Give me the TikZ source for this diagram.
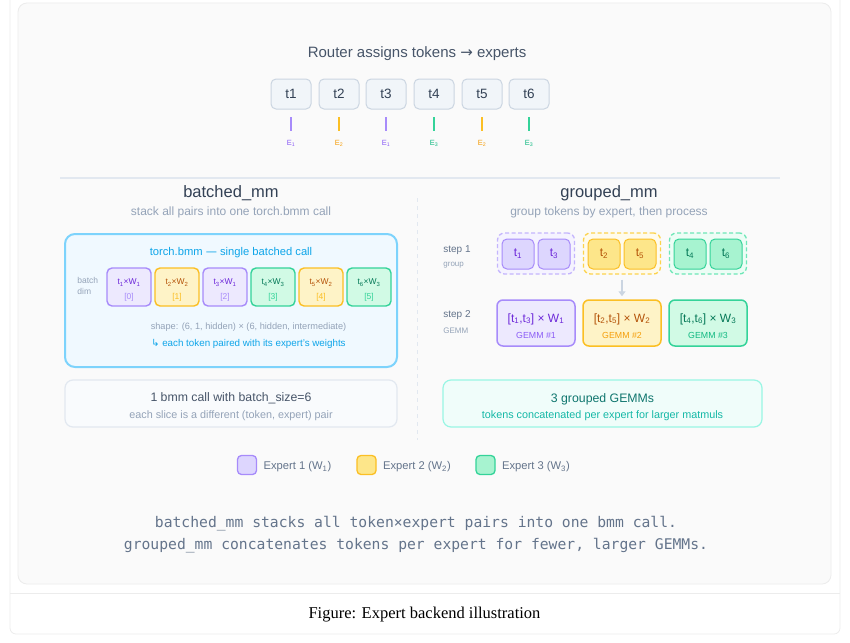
\documentclass[tikz,border=0pt]{standalone}
\usepackage{fontspec}
\setmainfont{Liberation Sans}
\setmonofont{DejaVu Sans Mono}
\newfontfamily\capfont{Liberation Serif}
\newfontfamily\symfont{DejaVu Sans}
\usetikzlibrary{arrows.meta}

\newcommand{\fsz}[1]{\fontsize{#1}{#1}\selectfont}

\definecolor{ink}{HTML}{334155}
\definecolor{inkmid}{HTML}{475569}
\definecolor{inksoft}{HTML}{64748B}
\definecolor{inkfaint}{HTML}{94A3B8}
\definecolor{rule}{HTML}{E2E8F0}
\definecolor{panel}{HTML}{FAFAFA}
\definecolor{panelline}{HTML}{ECECEC}
\definecolor{tokfill}{HTML}{F1F5F9}
\definecolor{tokline}{HTML}{CBD5E1}
\definecolor{sky}{HTML}{0EA5E9}
\definecolor{skyline}{HTML}{7DD3FC}
\definecolor{skyfill}{HTML}{F0F9FF}
\definecolor{teal}{HTML}{0F766E}
\definecolor{tealsoft}{HTML}{14B8A6}
\definecolor{tealline}{HTML}{99F6E4}
\definecolor{tealfill}{HTML}{F0FDFA}
% expert colours: P = expert 1, O = expert 2, G = expert 3
\definecolor{lineP}{HTML}{A78BFA}
\definecolor{fillP}{HTML}{EDE9FE}
\definecolor{textP}{HTML}{6D28D9}
\definecolor{softP}{HTML}{8B5CF6}
\definecolor{dashP}{HTML}{C4B5FD}
\definecolor{areaP}{HTML}{F5F3FF}
\definecolor{chipP}{HTML}{DDD6FE}
\definecolor{lineO}{HTML}{FBBF24}
\definecolor{fillO}{HTML}{FEF3C7}
\definecolor{textO}{HTML}{B45309}
\definecolor{softO}{HTML}{F59E0B}
\definecolor{dashO}{HTML}{FCD34D}
\definecolor{areaO}{HTML}{FFFBEB}
\definecolor{chipO}{HTML}{FDE68A}
\definecolor{lineG}{HTML}{34D399}
\definecolor{fillG}{HTML}{D1FAE5}
\definecolor{textG}{HTML}{047857}
\definecolor{softG}{HTML}{10B981}
\definecolor{dashG}{HTML}{6EE7B7}
\definecolor{areaG}{HTML}{ECFDF5}
\definecolor{chipG}{HTML}{A7F3D0}

\begin{document}
\begin{tikzpicture}[x=1pt, y=-1pt, line width=0.8pt,
  tok/.style={draw=tokline, fill=tokfill, rounded corners=5pt, line width=1pt,
    minimum width=40pt, minimum height=30pt, inner sep=0pt, text=ink, font=\fsz{13.5}},
  cell/.style={rounded corners=5pt, line width=1.4pt, minimum width=44pt, minimum height=38pt, inner sep=0pt},
  grp/.style={dashed, dash pattern=on 4pt off 2.5pt, rounded corners=7pt, line width=1.3pt,
    minimum width=77pt, minimum height=41pt, inner sep=0pt},
  chip/.style={rounded corners=5pt, line width=1pt, minimum width=32pt, minimum height=30pt,
    inner sep=0pt, font=\fsz{12}},
  gemm/.style={rounded corners=6pt, line width=1.5pt, minimum width=78pt, minimum height=46pt, inner sep=0pt},
  swatch/.style={rounded corners=4pt, line width=1.3pt, minimum size=19pt, inner sep=0pt},
  lbl/.style={inner sep=0pt, yshift=-1.5pt},
  ]
  \useasboundingbox (0,0) rectangle (850,642);
  % frame and panel
  \draw[draw=panelline, fill=white, rounded corners=6pt] (10,-10) rectangle (840,634);
  \draw[draw=panelline, fill=panel, rounded corners=9pt] (18,3) rectangle (831,584);
  \coordinate (capl) at (10,593);
  \coordinate (capr) at (840,593);
  \draw[panelline] (capl) -- (capr);

  % router
  \node[lbl, text=inkmid, font=\fsz{15}] (router) at (417,52) {Router assigns tokens {\symfont→} experts};
  \foreach \i/\x/\c/\e in {1/291/P/1, 2/339/O/2, 3/386/P/1, 4/434/G/3, 5/482/O/2, 6/529/G/3} {
    \node[tok] (t\i) at (\x,94) {t\i};
    \coordinate (ka\i) at (\x,117);
    \coordinate (kb\i) at (\x,131);
    \draw[line\c, line width=1.4pt] (ka\i) -- (kb\i);
    \node[lbl, text=soft\c, font=\fsz{7.5}] (e\i) at (\x,142) {E\textsubscript{\e}};
  }
  \coordinate (sepl) at (60,178);
  \coordinate (sepr) at (780,178);
  \draw[rule, line width=1.4pt] (sepl) -- (sepr);
  \coordinate (mida) at (417,198);
  \coordinate (midb) at (417,440);
  \draw[rule, dashed, dash pattern=on 4pt off 4pt, line width=1pt] (mida) -- (midb);

  % batched_mm
  \node[lbl, text=ink, font=\fsz{16.5}] (bhead) at (231,192) {batched\_mm};
  \node[lbl, text=inkfaint, font=\fsz{12}] (bsub) at (231,211) {stack all pairs into one torch.bmm call};
  \node[draw=skyline, fill=skyfill, line width=2pt, rounded corners=10pt,
    minimum width=332pt, minimum height=133pt] (bmm) at (231,300.5) {};
  \node[lbl, text=sky, font=\fsz{11.2}] (btitle) at (231,251) {torch.bmm {\symfont—} single batched call};
  \node[lbl, text=inkfaint, font=\fsz{8.5}, anchor=west] (bdim1) at (77,279) {batch};
  \node[lbl, text=inkfaint, font=\fsz{8.5}, anchor=west] (bdim2) at (77,290) {dim};
  \foreach \i/\c/\w/\n in {1/P/1/0, 2/O/2/1, 3/P/1/2, 4/G/3/3, 5/O/2/4, 6/G/3/5} {
    \node[cell, draw=line\c, fill=fill\c] (b\i) at ({81+48*\i},287) {};
    \node[lbl, text=text\c, font=\fsz{8.5}] (bt\i) at ({81+48*\i},281) {t\textsubscript{\i}×W\textsubscript{\w}};
    \node[lbl, text=line\c, font=\fsz{8.5}] (bn\i) at ({81+48*\i},295.5) {[\n]};
  }
  \node[lbl, text=inkfaint, font=\fsz{9.2}] (bshape) at (248.5,326) {shape: (6, 1, hidden) × (6, hidden, intermediate)};
  \node[lbl, text=sky, font=\fsz{9.8}] (bnote) at (248.5,342) {{\symfont↳} each token paired with its expert's weights};
  \node[draw=rule, fill=white!60!tokfill, line width=1.2pt, rounded corners=8pt,
    minimum width=332pt, minimum height=47pt] (bsum) at (231,403.5) {};
  \node[lbl, text=inkmid, font=\fsz{12.3}] (bsum1) at (231,397) {1 bmm call with batch\_size=6};
  \node[lbl, text=inkfaint, font=\fsz{10.8}] (bsum2) at (231,414) {each slice is a different (token, expert) pair};

  % grouped_mm
  \node[lbl, text=ink, font=\fsz{16.5}] (ghead) at (609,192) {grouped\_mm};
  \node[lbl, text=inkfaint, font=\fsz{12}] (gsub) at (609,211) {group tokens by expert, then process};
  \node[lbl, text=inksoft, font=\fsz{10}, anchor=west] (st1) at (443,249) {step 1};
  \node[lbl, text=inkfaint, font=\fsz{8}, anchor=west] (st1b) at (443,264) {group};
  \node[lbl, text=inksoft, font=\fsz{10}, anchor=west] (st2) at (443,314) {step 2};
  \node[lbl, text=inkfaint, font=\fsz{8}, anchor=west] (st2b) at (443,329) {GEMM};
  \foreach \c/\x/\a/\b/\w/\k in {P/536/1/3/1/1, O/622/2/5/2/2, G/708/4/6/3/3} {
    \node[grp, draw=dash\c, fill=area\c] (g\c) at (\x,253.5) {};
    \node[chip, draw=line\c, fill=chip\c, text=text\c] (s\a) at ({\x-18},254) {t\textsubscript{\a}};
    \node[chip, draw=line\c, fill=chip\c, text=text\c] (s\b) at ({\x+18},254) {t\textsubscript{\b}};
    \node[gemm, draw=line\c, fill=fill\c] (m\c) at (\x,323) {};
    \node[lbl, text=text\c, font=\fsz{12}] (mt\c) at (\x,317.5) {[t\textsubscript{\a},t\textsubscript{\b}] × W\textsubscript{\w}};
    \node[lbl, text=soft\c, font=\fsz{8.8}] (mn\c) at (\x,334) {GEMM \#\k};
  }
  \draw[tokline, line width=1.5pt, shorten <=5pt, shorten >=3pt, -{Triangle[width=7pt,length=5pt]}] (gO) -- (mO);
  \node[draw=tealline, fill=tealfill, line width=1.2pt, rounded corners=8pt,
    minimum width=319pt, minimum height=47pt] (gsum) at (602.5,403.5) {};
  \node[lbl, text=teal, font=\fsz{12.3}] (gsum1) at (602.5,398) {3 grouped GEMMs};
  \node[lbl, text=tealsoft, font=\fsz{10.8}] (gsum2) at (602.5,414) {tokens concatenated per expert for larger matmuls};

  % legend
  \foreach \c/\x/\w in {P/247/1, O/366.5/2, G/485.5/3} {
    \node[swatch, draw=line\c, fill=chip\c] (w\c) at (\x,465) {};
    \node[lbl, anchor=west, text=inksoft, font=\fsz{11.2}] (wl\c) at ([xshift=6pt]w\c.east) {Expert \w\ (W\textsubscript{\w})};
  }

  % closing note and caption
  \node[lbl, text=inksoft, font=\ttfamily\fsz{14.7}] (note1) at (416,522) {batched\_mm stacks all token×expert pairs into one bmm call.};
  \node[lbl, text=inksoft, font=\ttfamily\fsz{14.7}] (note2) at (416,544) {grouped\_mm concatenates tokens per expert for fewer, larger GEMMs.};
  \node[lbl, text=black, font=\capfont\fsz{16.5}] (cap) at (424.5,613) {Figure: Expert backend illustration};
\end{tikzpicture}
\end{document}
